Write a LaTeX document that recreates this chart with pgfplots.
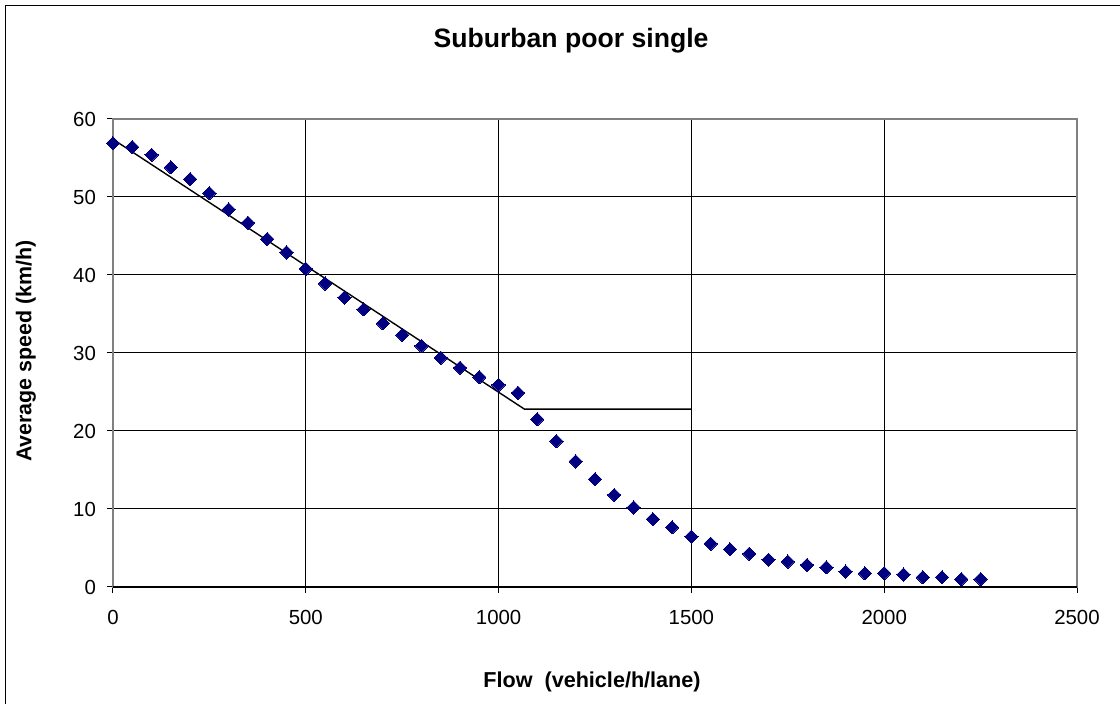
\documentclass[border=0pt]{standalone}
\usepackage{pgfplots}
\pgfplotsset{compat=1.18}
\usepackage{fontspec}
\setmainfont{Liberation Sans}
\definecolor{navy}{RGB}{0,0,128}
\definecolor{boxgray}{RGB}{128,128,128}
\begin{document}
\begin{tikzpicture}[x=1pt,y=1pt]
\useasboundingbox (0,0) rectangle (560,352);
\draw[line width=0.6pt,black] (2.75,0) -- (2.75,349.25) -- (560,349.25);
\begin{axis}[
  at={(56.5pt,58.5pt)}, anchor=south west,
  scale only axis, width=482pt, height=234pt,
  xmin=0, xmax=2500, ymin=0, ymax=60,
  xtick={0,500,1000,1500,2000,2500},
  ytick={0,10,20,30,40,50,60},
  grid=major,
  major grid style={black, line width=0.5pt},
  axis line style={boxgray, line width=0.7pt},
  tick align=outside,
  major tick length=3pt,
  tick style={black, line width=0.5pt},
  xtick pos=bottom, ytick pos=left,
  /pgf/number format/assume math mode=true,
  /pgf/number format/set thousands separator={},
  tick label style={font=\fontsize{10.2}{12}\selectfont},
  x tick label style={yshift=-5pt},
  y tick label style={xshift=-2pt},
  clip=false,
]
\addplot[only marks, mark=square*, mark size=2.35pt, mark options={rotate=45, fill=navy, draw=navy, line width=0pt}] coordinates {
(0,56.9) (50,56.4) (100,55.4) (150,53.8) (200,52.3) (250,50.5)
(300,48.4) (350,46.7) (400,44.6) (450,42.9) (500,40.8) (550,38.9)
(600,37.1) (650,35.6) (700,33.8) (750,32.3) (800,30.9) (850,29.4)
(900,28.1) (950,26.9) (1000,25.9) (1050,24.9) (1100,21.5) (1150,18.7)
(1200,16.1) (1250,13.8) (1300,11.8) (1350,10.2) (1400,8.7) (1450,7.65)
(1500,6.45) (1550,5.55) (1600,4.83) (1650,4.27) (1700,3.5) (1750,3.25)
(1800,2.82) (1850,2.52) (1900,1.97) (1950,1.75) (2000,1.75) (2050,1.6)
(2100,1.25) (2150,1.25) (2200,1.0) (2250,1.0)
};
\addplot[black, line width=0.7pt, no marks] coordinates {(0,57.4) (1067,22.8) (1500,22.8)};
\draw[black, line width=0.7pt] (axis cs:0,0) -- (axis cs:2500,0);
\end{axis}
\node[font=\bfseries\fontsize{13.3}{16}\selectfont] at (285.5,331.5) {Suburban poor single};
\node[font=\bfseries\fontsize{10.8}{13}\selectfont] at (296,11) {Flow\ \ (vehicle/h/lane)};
\node[font=\bfseries\fontsize{10.7}{13}\selectfont, rotate=90] at (13,176.5) {Average speed (km/h)};
\end{tikzpicture}
\end{document}
